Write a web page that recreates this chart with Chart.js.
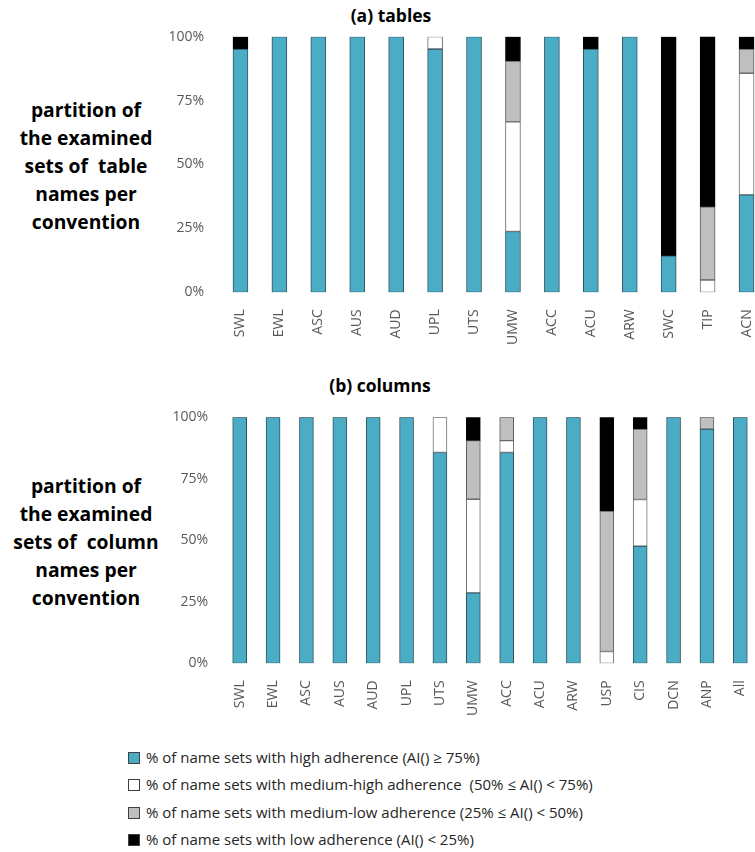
<!DOCTYPE html>
<html>
<head>
<meta charset="utf-8">
<script src="https://cdn.jsdelivr.net/npm/chart.js@4"></script>
<style>
  body { margin: 0; width: 755px; height: 852px; overflow: hidden; background: #fff; position: relative; font-family: "Open Sans", sans-serif; }
  canvas { position: absolute; }
  .title { position: absolute; width: 300px; text-align: center; font-weight: bold; font-size: 17.5px; color: #000; line-height: 24px; }
  .side { position: absolute; left: 0; width: 172px; text-align: center; font-weight: bold; font-size: 19.3px; line-height: 28px; color: #000; white-space: pre; }
  .legend { position: absolute; left: 128px; top: 744px; font-size: 15px; color: #262626; }
  .legend div { height: 27.3px; line-height: 27.3px; white-space: pre; }
  .legend span { display: inline-block; width: 10px; height: 10px; border: 1px solid #404040; margin-right: 6px; vertical-align: -1px; }
</style>
</head>
<body>
<div class="title" style="top:3px; left:241px">(a) tables</div>
<div class="side" style="top:96px">partition of
the examined
sets of  table
names per
convention</div>
<canvas id="tablesChart" width="616" height="340" style="left:150px; top:20px"></canvas>

<div class="title" style="top:373px; left:230px">(b) columns</div>
<div class="side" style="top:472px">partition of
the examined
sets of  column
names per
convention</div>
<canvas id="columnsChart" width="607" height="330" style="left:150px; top:400px"></canvas>

<div class="legend" id="legend"></div>

<script>
// (a) tables
const tableConventions = ["SWL", "EWL", "ASC", "AUS", "AUD", "UPL", "UTS", "UMW", "ACC", "ACU", "ARW", "SWC", "TIP", "ACN"];
const tableHigh    = [95.2, 100, 100, 100, 100, 95.2, 100, 23.8, 100, 95.2, 100, 14.3, 0, 38.1];
const tableMedHigh = [0, 0, 0, 0, 0, 4.8, 0, 42.9, 0, 0, 0, 0, 4.8, 47.6];
const tableMedLow  = [0, 0, 0, 0, 0, 0, 0, 23.8, 0, 0, 0, 0, 28.6, 9.5];
const tableLow     = [4.8, 0, 0, 0, 0, 0, 0, 9.5, 0, 4.8, 0, 85.7, 66.7, 4.8];

// (b) columns
const columnConventions = ["SWL", "EWL", "ASC", "AUS", "AUD", "UPL", "UTS", "UMW", "ACC", "ACU", "ARW", "USP", "CIS", "DCN", "ANP", "All"];
const columnHigh    = [100, 100, 100, 100, 100, 100, 85.7, 28.6, 85.7, 100, 100, 0, 47.6, 100, 95.2, 100];
const columnMedHigh = [0, 0, 0, 0, 0, 0, 14.3, 38.1, 4.8, 0, 0, 4.8, 19.0, 0, 0, 0];
const columnMedLow  = [0, 0, 0, 0, 0, 0, 0, 23.8, 9.5, 0, 0, 57.1, 28.6, 0, 4.8, 0];
const columnLow     = [0, 0, 0, 0, 0, 0, 0, 9.5, 0, 0, 0, 38.1, 4.8, 0, 0, 0];

const yTicks = [0, 25, 50, 75, 100];

const seriesNames = [
    "% of name sets with high adherence (AI() \u2265 75%)",
    "% of name sets with medium-high adherence  (50% \u2264 AI() < 75%)",
    "% of name sets with medium-low adherence (25% \u2264 AI() < 50%)",
    "% of name sets with low adherence (AI() < 25%)"
];
const seriesColors = ["#4BACC6", "#FFFFFF", "#BFBFBF", "#000000"];
const seriesBorders = ["#31545e", "#6f6f6f", "#5f5f5f", "#000000"];

Chart.defaults.font.family = "'Open Sans', sans-serif";
Chart.defaults.font.size = 14;
Chart.defaults.color = "#595959";

function makeChart(id, labels, series, opts) {
    const ctx = document.getElementById(id).getContext("2d");
    return new Chart(ctx, {
        type: "bar",
        data: {
            labels: labels,
            datasets: series.map((vals, i) => ({
                label: seriesNames[i],
                data: vals.map(v => (v === 0 ? null : v)),
                backgroundColor: seriesColors[i],
                borderColor: seriesBorders[i],
                borderWidth: 1,
                borderSkipped: false,
                barThickness: opts.barThickness
            }))
        },
        options: {
            responsive: false,
            animation: false,
            layout: { padding: { top: opts.padTop, left: 0, right: 0, bottom: 0 } },
            plugins: { legend: { display: false }, tooltip: { enabled: false } },
            scales: {
                x: {
                    stacked: true,
                    grid: { display: false, drawTicks: false },
                    border: { display: false },
                    ticks: { minRotation: 90, maxRotation: 90, autoSkip: false, padding: 17 },
                    afterFit: s => {
                        s.height = opts.xHeight;
                        s.paddingLeft = 0;
                        s.paddingRight = 0;
                    }
                },
                y: {
                    stacked: true,
                    min: 0,
                    max: 100,
                    grid: { display: false, drawTicks: false },
                    border: { display: false },
                    afterBuildTicks: s => { s.ticks = yTicks.map(v => ({ value: v })); },
                    ticks: { padding: opts.yPad, callback: v => v + "%" },
                    afterFit: s => {
                        s.width = opts.yWidth;
                        s.paddingTop = 0;
                        s.paddingBottom = 0;
                    }
                }
            }
        }
    });
}

makeChart("tablesChart", tableConventions,
    [tableHigh, tableMedHigh, tableMedLow, tableLow],
    { barThickness: 15, padTop: 16.7, xHeight: 67.7, yWidth: 71, yPad: 17 });

makeChart("columnsChart", columnConventions,
    [columnHigh, columnMedHigh, columnMedLow, columnLow],
    { barThickness: 14, padTop: 17.3, xHeight: 66.7, yWidth: 73, yPad: 15 });

const legend = document.getElementById("legend");
seriesNames.forEach((name, i) => {
    const row = document.createElement("div");
    const sw = document.createElement("span");
    sw.style.background = seriesColors[i];
    row.appendChild(sw);
    row.appendChild(document.createTextNode(name));
    legend.appendChild(row);
});
</script>
</body>
</html>
